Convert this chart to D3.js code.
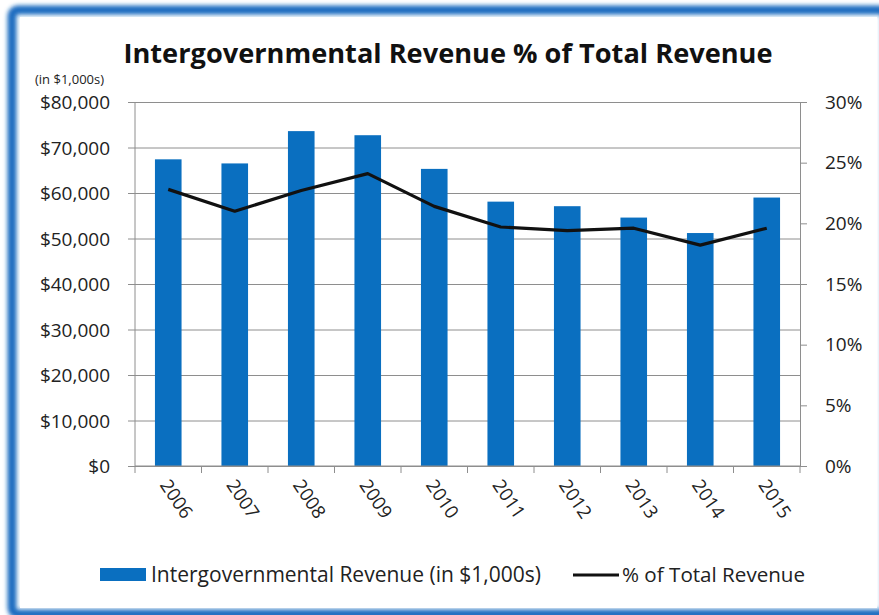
<!DOCTYPE html>
<html>
<head>
<meta charset="utf-8">
<script src="https://cdn.jsdelivr.net/npm/d3@7"></script>
<style>
  html, body { margin: 0; padding: 0; background: #ffffff; }
  svg { display: block; }
  svg text { font-family: "Open Sans", Lato, sans-serif; }
</style>
</head>
<body>
<svg id="chart" width="879" height="615"></svg>
<script>
// Intergovernmental revenue by fiscal year (in $1,000s) and its share of total revenue
const years = ["2006", "2007", "2008", "2009", "2010", "2011", "2012", "2013", "2014", "2015"];
const revenue = [67400, 66500, 73600, 72700, 65300, 58100, 57100, 54600, 51200, 59000];
const pctOfTotal = [22.8, 21.0, 22.7, 24.1, 21.4, 19.7, 19.4, 19.6, 18.2, 19.6];
const leftTicks = [0, 10000, 20000, 30000, 40000, 50000, 60000, 70000, 80000];
const rightTicks = [0, 5, 10, 15, 20, 25, 30];

const svg = d3.select("#chart");
const W = 879, H = 615;
const plot = { left: 135, right: 800, top: 102, bottom: 466 };
const barColor = "#0a6fc0";
const gridColor = "#8e8e8e";
const textColor = "#222";

// soft blue frame around the panel
const defs = svg.append("defs");
const blur = defs.append("filter").attr("id", "soft").attr("x", "-5%").attr("y", "-5%").attr("width", "110%").attr("height", "110%");
blur.append("feGaussianBlur").attr("stdDeviation", 2.2);

svg.append("rect").attr("width", W).attr("height", H).attr("fill", "#ffffff");
svg.append("rect")
  .attr("x", 12).attr("y", 10).attr("width", 874).attr("height", 604)
  .attr("rx", 6)
  .attr("fill", "none").attr("stroke", "#1a6cc0").attr("stroke-width", 9)
  .attr("filter", "url(#soft)");
svg.append("rect")
  .attr("x", 20).attr("y", 17).attr("width", 857).attr("height", 591)
  .attr("fill", "#ffffff");

// scales
const x = d3.scaleBand().domain(years).range([plot.left, plot.right]).paddingInner(0.6).paddingOuter(0.3);
const xCat = d3.scaleBand().domain(years).range([plot.left, plot.right]);
const yL = d3.scaleLinear().domain([0, 80000]).range([plot.bottom, plot.top]);
const yR = d3.scaleLinear().domain([0, 30]).range([plot.bottom, plot.top]);

// gridlines from the left axis ticks
const leftAxis = d3.axisLeft(yL).tickValues(leftTicks)
  .tickSize(-(plot.right - plot.left)).tickSizeOuter(0).tickPadding(0)
  .tickFormat(d => "$" + d3.format(",")(d));
const gL = svg.append("g").attr("transform", `translate(${plot.left},0)`).call(leftAxis)
  .attr("font-family", null);
gL.select(".domain").remove();
gL.selectAll(".tick line").attr("stroke", gridColor).attr("x1", -7);
gL.selectAll(".tick text")
  .attr("x", -25).attr("dy", "0.35em")
  .attr("fill", textColor).style("font-size", "19px");

// left axis line
svg.append("line").attr("x1", plot.left).attr("x2", plot.left)
  .attr("y1", plot.top).attr("y2", plot.bottom).attr("stroke", gridColor);

// right axis
const rightAxis = d3.axisRight(yR).tickValues(rightTicks).tickSize(7).tickSizeOuter(0)
  .tickFormat(d => d + "%");
const gR = svg.append("g").attr("transform", `translate(${plot.right},0)`).call(rightAxis)
  .attr("font-family", null);
gR.select(".domain").attr("stroke", gridColor);
gR.selectAll(".tick line").attr("stroke", gridColor);
gR.selectAll(".tick text").attr("x", 25).attr("fill", textColor).style("font-size", "19px");

// bars
svg.append("g").selectAll("rect").data(years).join("rect")
  .attr("x", d => x(d))
  .attr("width", x.bandwidth())
  .attr("y", (d, i) => yL(revenue[i]))
  .attr("height", (d, i) => yL(0) - yL(revenue[i]))
  .attr("fill", barColor);

// category axis with ticks on the boundaries
const gX = svg.append("g").attr("transform", `translate(0,${plot.bottom})`);
gX.append("line").attr("x1", plot.left).attr("x2", plot.right).attr("stroke", gridColor);
const bounds = years.map(d => xCat(d)).concat([plot.right]);
gX.selectAll("line.tk").data(bounds).join("line").attr("class", "tk")
  .attr("x1", d => d).attr("x2", d => d).attr("y1", 0).attr("y2", 7).attr("stroke", gridColor);
gX.selectAll("text").data(years).join("text")
  .attr("transform", d => `translate(${xCat(d) + xCat.bandwidth() / 2 - 9},${19}) rotate(56)`)
  .attr("text-anchor", "start")
  .attr("fill", textColor).style("font-size", "18.5px")
  .text(d => d);

// percentage line
const line = d3.line()
  .x((d, i) => xCat(years[i]) + xCat.bandwidth() / 2)
  .y(d => yR(d));
svg.append("path").datum(pctOfTotal)
  .attr("d", line)
  .attr("fill", "none").attr("stroke", "#111").attr("stroke-width", 3.2)
  .attr("stroke-linejoin", "round");

// titles
svg.append("text").attr("x", 448).attr("y", 63).attr("text-anchor", "middle")
  .style("font-size", "27.2px").style("font-weight", "bold").attr("fill", "#111")
  .text("Intergovernmental Revenue % of Total Revenue");
svg.append("text").attr("x", 35).attr("y", 84)
  .style("font-size", "13px").attr("fill", textColor)
  .text("(in $1,000s)");

// legend
const lg = svg.append("g");
lg.append("rect").attr("x", 100).attr("y", 568).attr("width", 46).attr("height", 13).attr("fill", barColor);
lg.append("text").attr("x", 151).attr("y", 582).style("font-size", "21px").attr("fill", textColor)
  .text("Intergovernmental Revenue (in $1,000s)");
lg.append("line").attr("x1", 573).attr("x2", 619).attr("y1", 575).attr("y2", 575)
  .attr("stroke", "#111").attr("stroke-width", 3.2);
lg.append("text").attr("x", 622).attr("y", 582).style("font-size", "20.6px").attr("fill", textColor)
  .text("% of Total Revenue");
</script>
</body>
</html>
